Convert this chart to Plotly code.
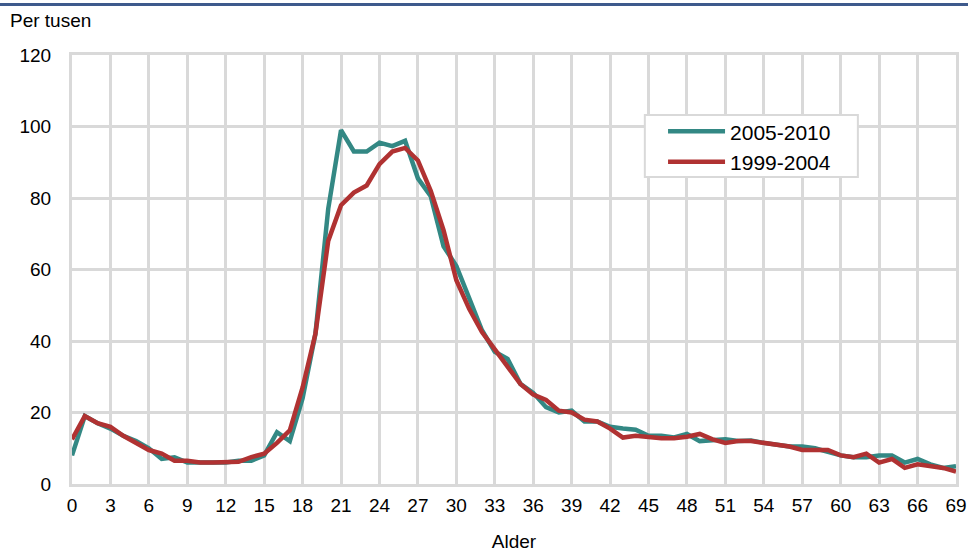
import plotly.graph_objects as go

ages = list(range(0, 70))

s_2005_2010 = [8, 19, 17, 15.5, 13.5, 12, 10, 7, 7.5, 6,
               6, 6, 6, 6.5, 6.5, 8, 14.5, 12, 24, 42,
               77, 99, 93, 93, 95.5, 94.5, 96, 85.5, 80.5, 66.5,
               61, 52, 43, 37, 35, 28, 25.5, 21.5, 20, 20.5,
               17.5, 17.5, 16, 15.5, 15.2, 13.5, 13.5, 13, 14, 12,
               12.2, 12.5, 12, 12.2, 11.5, 11, 10.5, 10.5, 10, 9,
               8, 7.5, 7.5, 8, 8, 6, 7, 5.5, 4.5, 5]

s_1999_2004 = [12.5, 19, 17, 16, 13.5, 11.5, 9.5, 8.5, 6.5, 6.5,
               6, 6, 6.2, 6.2, 7.5, 8.5, 11.5, 15, 27, 42,
               68, 78, 81.5, 83.5, 89.5, 93, 94, 90.5, 82, 71,
               57, 49, 42.5, 37.5, 33, 28, 25, 23.5, 20.5, 20,
               18, 17.5, 15.5, 13, 13.5, 13, 12.8, 12.8, 13.2, 14,
               12.5, 11.5, 12, 12, 11.5, 11, 10.5, 9.5, 9.5, 9.5,
               8, 7.5, 8.5, 6, 7, 4.5, 5.5, 5, 4.5, 3.5]

x_ticks = list(range(0, 70, 3))
y_ticks = list(range(0, 121, 20))

font_family = "Liberation Sans, Arial, sans-serif"

fig = go.Figure()
fig.add_trace(go.Scatter(x=ages, y=s_2005_2010, mode="lines", name="2005-2010",
                         line=dict(color="#338884", width=4.5)))
fig.add_trace(go.Scatter(x=ages, y=s_1999_2004, mode="lines", name="1999-2004",
                         line=dict(color="#B03232", width=4.5)))

fig.update_layout(
    width=968, height=553,
    margin=dict(l=72, r=12, t=55, b=69),
    paper_bgcolor="white", plot_bgcolor="white",
    font=dict(family=font_family, size=19, color="#000000"),
    showlegend=True,
    legend=dict(x=0.6686, y=0.869, xanchor="left", yanchor="top",
                bgcolor="rgba(0,0,0,0)", borderwidth=0,
                font=dict(size=21), itemwidth=57, tracegroupgap=0),
    xaxis=dict(range=[0, 69], tickvals=x_ticks, showgrid=True, automargin=False,
               gridcolor="#D9D9D9", gridwidth=3, zeroline=False,
               showline=True, linecolor="#D9D9D9", linewidth=3, mirror=True,
               ticks="outside", ticklen=2, tickcolor="rgba(0,0,0,0)",
               title=dict(text="Alder", font=dict(size=19), standoff=20)),
    yaxis=dict(range=[0, 120], tickvals=y_ticks, showgrid=True, automargin=False,
               gridcolor="#D9D9D9", gridwidth=3, zeroline=False,
               showline=True, linecolor="#D9D9D9", linewidth=3, mirror=True,
               ticks="outside", ticklen=14, tickcolor="rgba(0,0,0,0)"),
    annotations=[dict(text="Per tusen", xref="paper", yref="paper",
                      x=-0.072, y=1.052, xanchor="left", yanchor="bottom",
                      showarrow=False, font=dict(size=19))],
    shapes=[
        dict(type="line", xref="paper", yref="paper",
             x0=-0.1, x1=1.1, y0=1.118, y1=1.118,
             line=dict(color="#3E5A8C", width=3)),
        dict(type="rect", xref="paper", yref="paper", layer="above",
             x0=0.648, x1=0.889, y0=0.7156, y1=0.860,
             fillcolor="white", line=dict(color="#D9D9D9", width=2)),
    ],
)

fig.write_html("out.html", config={"displayModeBar": False},
               post_script="document.body.style.margin='0px';document.body.style.padding='0px';document.body.style.overflow='hidden';")
